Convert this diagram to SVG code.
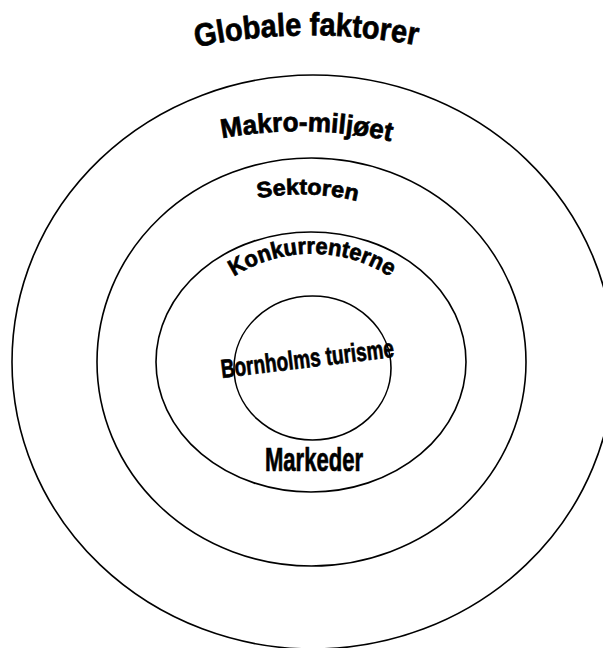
<svg xmlns="http://www.w3.org/2000/svg" xmlns:xlink="http://www.w3.org/1999/xlink" width="603" height="648" viewBox="0 0 603 648">
<style>
.ring{fill:none;stroke:#000;stroke-width:1.6}
.lbl{font-family:"Liberation Sans",Arial,sans-serif;font-weight:bold;fill:#000;stroke:#000;stroke-width:0.7}
</style>
<defs>
<path id="pGlob" d="M 193 48 A 560 560 0 0 1 420 46"/>
<path id="pMak" d="M 219 139 A 420 420 0 0 1 394 142"/>
<path id="pSek" d="M 255 199 A 230 230 0 0 1 360 202"/>
<path id="pKon" d="M 226 282 A 145 145 0 0 1 398 282"/>
</defs>
<rect width="603" height="648" fill="#fff"/>
<g id="rings">
<g id="ring-global"><ellipse class="ring" cx="313" cy="362" rx="301" ry="287"/></g>
<g id="ring-makro"><ellipse class="ring" cx="311.5" cy="362" rx="214.5" ry="204"/></g>
<g id="ring-sektor"><ellipse class="ring" cx="311" cy="362" rx="155" ry="130"/></g>
<g id="ring-core"><ellipse class="ring" cx="312.5" cy="368" rx="78.5" ry="72"/></g>
</g>
<g id="labels">
<g id="globale"><text class="lbl" font-size="32"><textPath xlink:href="#pGlob" startOffset="50%" text-anchor="middle" textLength="222" lengthAdjust="spacingAndGlyphs">Globale faktorer</textPath></text></g>
<g id="makro"><text class="lbl" font-size="27"><textPath xlink:href="#pMak" startOffset="50%" text-anchor="middle" textLength="170" lengthAdjust="spacingAndGlyphs">Makro-miljøet</textPath></text></g>
<g id="sektoren"><text class="lbl" font-size="22"><textPath xlink:href="#pSek" startOffset="50%" text-anchor="middle" textLength="100" lengthAdjust="spacingAndGlyphs">Sektoren</textPath></text></g>
<g id="konkurrenterne"><text class="lbl" font-size="23"><textPath xlink:href="#pKon" startOffset="50%" text-anchor="middle" textLength="165" lengthAdjust="spacingAndGlyphs">Konkurrenterne</textPath></text></g>
<g id="bornholm"><text class="lbl" font-size="26" transform="translate(222 378) rotate(-7)" textLength="174" lengthAdjust="spacingAndGlyphs">Bornholms turisme</text></g>
<g id="markeder"><text class="lbl" font-size="34" x="265" y="471" textLength="98" lengthAdjust="spacingAndGlyphs">Markeder</text></g>
</g>
</svg>
